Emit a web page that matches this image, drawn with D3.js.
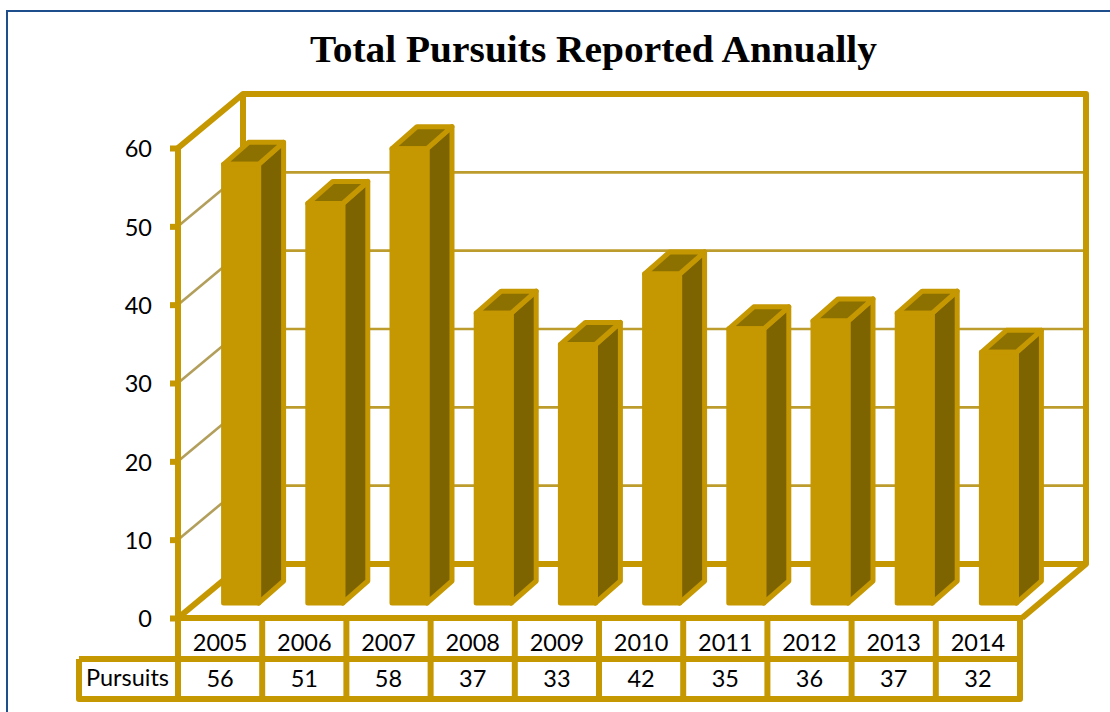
<!DOCTYPE html>
<html>
<head>
<meta charset="utf-8">
<script src="https://cdn.jsdelivr.net/npm/d3@7"></script>
<style>
  html, body { margin: 0; padding: 0; background: #fff; overflow: hidden; }
  svg { display: block; }
</style>
</head>
<body>
<svg id="chart" width="1110" height="712"></svg>
<script>
// DATA
const years = ["2005", "2006", "2007", "2008", "2009", "2010", "2011", "2012", "2013", "2014"];
const pursuits = [56, 51, 58, 37, 33, 42, 35, 36, 37, 32];
const yTicks = [0, 10, 20, 30, 40, 50, 60];
const seriesName = "Pursuits";
const chartTitle = "Total Pursuits Reported Annually";

// COLOURS
const gold = "#c59700";
const gridColor = "#b39f5c";
const backGrid = "#bd9c2e";
const sideDark = "#7d6400";
const topDark = "#8c7000";
const frameBlue = "#1f4e8c";

// LAYOUT
const plotLeft = 178;
const plotRight = 1020;
const backLeft = 243;
const backRight = 1086;
const depthY = -54;
const rowTop = 618;
const rowMid = 659;
const rowBottom = 699;
const tableLeft = 79;
const barWidth = 35;
const barDepthX = 25;
const barDepthY = -22;
const barFloorX = 21; // shift of the bar from the middle of its cell
const barFloorY = -15;

const svg = d3.select("#chart");

const y = d3.scaleLinear().domain([0, 60]).range([618, 148]);
const x = d3.scaleBand().domain(years).range([plotLeft, plotRight]);

// outer frame of the slide box
svg.append("path")
  .attr("d", "M7,712V11H1110")
  .attr("fill", "none")
  .attr("stroke", frameBlue)
  .attr("stroke-width", 2);

// title
svg.append("text")
  .attr("x", 593.5)
  .attr("y", 62)
  .attr("text-anchor", "middle")
  .attr("textLength", 567)
  .attr("lengthAdjust", "spacingAndGlyphs")
  .style("font-family", "'Liberation Serif', serif")
  .style("font-weight", "bold")
  .style("font-size", "38px")
  .attr("fill", "#000")
  .text(chartTitle);

// gridlines on the side and back walls
const grid = svg.append("g").attr("fill", "none");
yTicks.filter(d => d > 0 && d < 60).forEach(d => {
  grid.append("line")
    .attr("x1", plotLeft).attr("y1", y(d))
    .attr("x2", backLeft).attr("y2", y(d) + depthY)
    .attr("stroke", gridColor).attr("stroke-width", 2.6);
  grid.append("line")
    .attr("x1", backLeft).attr("y1", y(d) + depthY)
    .attr("x2", backRight).attr("y2", y(d) + depthY)
    .attr("stroke", backGrid).attr("stroke-width", 2.6);
});

// walls and floor
const walls = svg.append("g")
  .attr("fill", "none")
  .attr("stroke", gold)
  .attr("stroke-width", 6)
  .attr("stroke-linejoin", "round");

walls.append("path").attr("d", d3.line()([
  [plotLeft, y(60)],
  [backLeft, y(60) + depthY],
  [backRight, y(60) + depthY],
  [backRight, y(0) + depthY],
  [plotRight + 2, y(0)]
]));
walls.append("path").attr("d", d3.line()([
  [backLeft, y(60) + depthY],
  [backLeft, y(0) + depthY],
  [backRight, y(0) + depthY]
]));
walls.append("path").attr("d", d3.line()([
  [backLeft, y(0) + depthY],
  [plotLeft, y(0)]
]));
walls.append("line")
  .attr("x1", plotLeft).attr("y1", y(60))
  .attr("x2", plotLeft).attr("y2", y(0));

// y axis
const yAxis = svg.append("g")
  .attr("transform", `translate(${plotLeft},0)`)
  .call(d3.axisLeft(y).tickValues(yTicks).tickSize(8).tickPadding(18));
yAxis.select(".domain").remove();
yAxis.selectAll(".tick line").attr("stroke", gold).attr("stroke-width", 6);
yAxis.selectAll(".tick text")
  .attr("fill", "#000")
  .attr("dy", "0.38em")
  .style("font-family", "Lato, 'Open Sans', sans-serif")
  .style("font-size", "23.5px");

// bars
const bars = svg.append("g")
  .selectAll("g")
  .data(years.map((year, i) => ({ year, value: pursuits[i] })))
  .join("g")
  .attr("stroke", gold)
  .attr("stroke-width", 5)
  .attr("stroke-linejoin", "round");

const barPath = d3.line();
const corners = d => {
  const x0 = x(d.year) + x.bandwidth() / 2 - barWidth / 2 + barFloorX;
  return {
    x0,
    x1: x0 + barWidth,
    yTop: y(d.value) + barFloorY,
    yBase: y(0) + barFloorY
  };
};

// side
bars.append("path")
  .attr("fill", sideDark)
  .attr("d", d => {
    const c = corners(d);
    return barPath([
      [c.x1, c.yTop],
      [c.x1 + barDepthX, c.yTop + barDepthY],
      [c.x1 + barDepthX, c.yBase + barDepthY],
      [c.x1, c.yBase]
    ]) + "Z";
  });
// top
bars.append("path")
  .attr("fill", topDark)
  .attr("d", d => {
    const c = corners(d);
    return barPath([
      [c.x0, c.yTop],
      [c.x0 + barDepthX, c.yTop + barDepthY],
      [c.x1 + barDepthX, c.yTop + barDepthY],
      [c.x1, c.yTop]
    ]) + "Z";
  });
// front
bars.append("rect")
  .attr("fill", gold)
  .attr("x", d => corners(d).x0)
  .attr("y", d => corners(d).yTop)
  .attr("width", barWidth)
  .attr("height", d => y(0) - y(d.value));

// data table
const table = svg.append("g")
  .attr("fill", "none")
  .attr("stroke", gold)
  .attr("stroke-width", 6)
  .attr("stroke-linejoin", "round");

table.append("path").attr("d", `M${tableLeft},${rowMid}H${plotRight}`);
table.append("path").attr("d", `M${plotLeft},${rowTop}H${plotRight}V${rowBottom}H${tableLeft}V${rowMid}`);
table.selectAll(".col")
  .data(years)
  .join("line")
  .attr("class", "col")
  .attr("x1", d => x(d)).attr("x2", d => x(d))
  .attr("y1", rowTop).attr("y2", rowBottom);

const cellFont = sel => sel
  .attr("text-anchor", "middle")
  .attr("dominant-baseline", "central")
  .attr("fill", "#000")
  .style("font-family", "Lato, 'Open Sans', sans-serif")
  .style("font-size", "23.5px");

svg.append("g").selectAll("text")
  .data(years)
  .join("text")
  .attr("x", d => x(d) + x.bandwidth() / 2)
  .attr("y", 642)
  .text(d => d)
  .call(cellFont);

svg.append("g").selectAll("text")
  .data(pursuits)
  .join("text")
  .attr("x", (d, i) => x(years[i]) + x.bandwidth() / 2)
  .attr("y", 678)
  .text(d => d)
  .call(cellFont);

svg.append("text")
  .attr("x", (tableLeft + plotLeft) / 2 - 1)
  .attr("y", 677)
  .text(seriesName)
  .call(cellFont);
</script>
</body>
</html>
